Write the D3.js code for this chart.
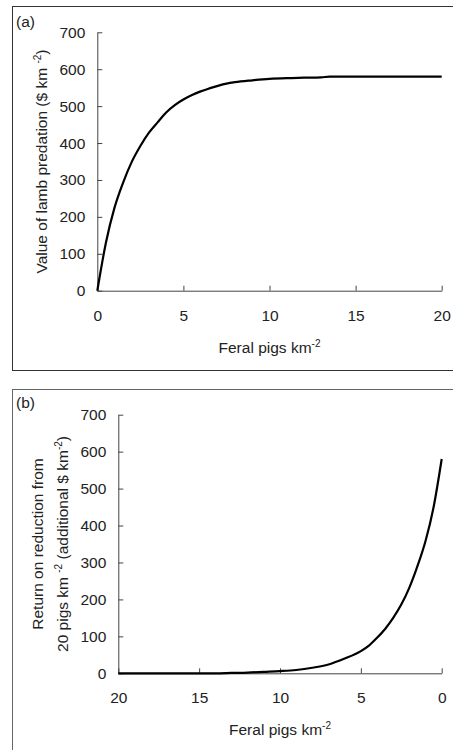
<!DOCTYPE html>
<html>
<head>
<meta charset="utf-8">
<script src="https://cdn.jsdelivr.net/npm/d3@7"></script>
<style>
  body { margin: 0; background: #fff; }
  svg { display: block; font-family: "Liberation Sans", Arial, sans-serif; }
  .tick text { font-size: 15.5px; fill: #222; }
  .axis path, .axis line { stroke: #444; }
</style>
</head>
<body>
<svg id="chart" width="453" height="750"></svg>
<script>
// (a) value of lamb predation vs pig density
const densityA = [0, 0.5, 1, 1.5, 2, 2.5, 3, 3.5, 4, 4.5, 5, 5.5, 6, 6.5, 7, 7.5, 8, 9, 10, 11, 12, 13, 13.5, 14, 15, 16, 17, 18, 19, 20];
const valueA   = [0, 130, 225, 293, 349, 392, 428, 456, 483, 503, 518, 530, 540, 548, 555, 561, 565, 570, 574, 576, 577, 578, 580, 580, 580, 580, 580, 580, 580, 580];

// (b) return on reduction from 20 pigs km-2
const densityB = [0, 0.5, 1, 1.5, 2, 2.5, 3, 3.5, 4, 4.5, 5, 6, 7, 8, 9, 10, 11, 12, 13, 14, 15, 16, 17, 18, 19, 20];
const valueB   = [580, 450, 358, 290, 232, 186, 150, 120, 96, 75, 60, 40, 24, 15, 9, 6, 4, 2, 1, 0, 0, 0, 0, 0, 0, 0];

const xTicks = [0, 5, 10, 15, 20];
const yTicks = [0, 100, 200, 300, 400, 500, 600, 700];

const svg = d3.select("#chart");

// panel frames
svg.append("rect")
    .attr("x", 12.5).attr("y", 6.5)
    .attr("width", 460).attr("height", 364)
    .attr("fill", "none").attr("stroke", "#333");

svg.append("rect")
    .attr("x", 12.5).attr("y", 389.5)
    .attr("width", 460).attr("height", 400)
    .attr("fill", "none").attr("stroke", "#666");

function drawPanel(opts) {
    const x = d3.scaleLinear().domain(opts.xDomain).range([opts.left, opts.right]);
    const y = d3.scaleLinear().domain([0, 700]).range([opts.bottom, opts.top]);

    svg.append("g")
        .attr("class", "axis")
        .attr("transform", `translate(0,${opts.bottom})`)
        .call(d3.axisBottom(x).tickValues(xTicks).tickSize(-5).tickSizeOuter(0).tickPadding(19));

    svg.append("g")
        .attr("class", "axis")
        .attr("transform", `translate(${opts.left},0)`)
        .call(d3.axisLeft(y).tickValues(yTicks).tickSize(-5).tickSizeOuter(0).tickPadding(12));

    const line = d3.line()
        .x((d, i) => x(opts.xs[i]))
        .y(d => y(d))
        .curve(d3.curveMonotoneX);

    svg.append("path")
        .datum(opts.ys)
        .attr("fill", "none")
        .attr("stroke", "#000")
        .attr("stroke-width", 2.2)
        .attr("stroke-linejoin", "round")
        .attr("d", line);

    // x title
    const xt = svg.append("text")
        .attr("x", (opts.left + opts.right) / 2)
        .attr("y", opts.bottom + 62)
        .attr("text-anchor", "middle")
        .attr("font-size", 15.5)
        .attr("fill", "#222");
    xt.append("tspan").text("Feral pigs km");
    xt.append("tspan").attr("dy", -6).attr("font-size", 10).text("-2");

    // panel label
    svg.append("text")
        .attr("x", 16)
        .attr("y", opts.labelY)
        .attr("font-size", 15.5)
        .attr("fill", "#222")
        .text(opts.label);

    return { x, y };
}

drawPanel({
    xDomain: [0, 20], left: 97.3, right: 441.7, top: 32.3, bottom: 290.7,
    xs: densityA, ys: valueA, label: "(a)", labelY: 27
});

drawPanel({
    xDomain: [20, 0], left: 118.3, right: 441.7, top: 414.7, bottom: 673.3,
    xs: densityB, ys: valueB, label: "(b)", labelY: 408
});

// y title (a)
const ya = svg.append("text")
    .attr("transform", `translate(47,161.5) rotate(-90)`)
    .attr("text-anchor", "middle")
    .attr("font-size", 15.5)
    .attr("fill", "#222");
ya.append("tspan").text("Value of lamb predation ($ km ");
ya.append("tspan").attr("dy", -6).attr("font-size", 10).text("-2");
ya.append("tspan").attr("dy", 6).text(")");

// y title (b), two lines
svg.append("text")
    .attr("transform", `translate(43,544) rotate(-90)`)
    .attr("text-anchor", "middle")
    .attr("font-size", 15.5)
    .attr("fill", "#222")
    .text("Return on reduction from");

const yb2 = svg.append("text")
    .attr("transform", `translate(68,544) rotate(-90)`)
    .attr("text-anchor", "middle")
    .attr("font-size", 15.5)
    .attr("fill", "#222");
yb2.append("tspan").text("20 pigs km ");
yb2.append("tspan").attr("dy", -6).attr("font-size", 10).text("-2");
yb2.append("tspan").attr("dy", 6).text(" (additional $ km");
yb2.append("tspan").attr("dy", -6).attr("font-size", 10).text("-2");
yb2.append("tspan").attr("dy", 6).text(")");
</script>
</body>
</html>
